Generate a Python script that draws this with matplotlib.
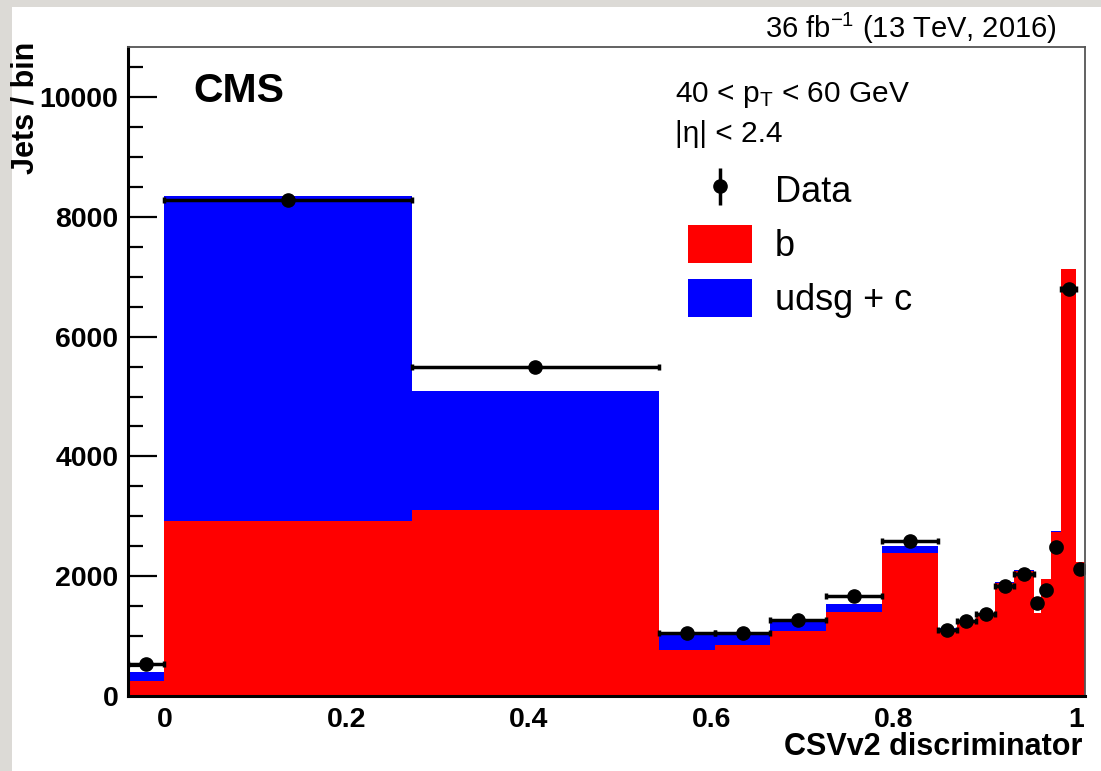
import numpy as np
import matplotlib
matplotlib.use("Agg")
import matplotlib.pyplot as plt
from matplotlib.patches import Rectangle, Patch
from matplotlib.ticker import MultipleLocator

# ---- data ----
bin_edges = [-0.04, 0.0, 0.2713, 0.5426, 0.6038, 0.6649, 0.7261, 0.7872, 0.8484,
             0.8694, 0.8904, 0.9115, 0.9325, 0.9535, 0.962, 0.973, 0.984, 1.0, 1.01]
b_jets = [255, 2922, 3105, 768, 851, 1085, 1408, 2382,
          1110, 1240, 1370, 1890, 2080, 1380, 1948, 2743, 7123, 2242]
light_jets = [151, 5425, 1987, 250, 167, 155, 128, 128,
              20, 20, 20, 15, 30, 10, 5, 5, 5, 0]
data_counts = [529, 8280, 5493, 1047, 1047, 1269, 1669, 2588,
               1102, 1257, 1369, 1836, 2032, 1548, 1770, 2493, 6795, 2120]

x_ticks = [0, 0.2, 0.4, 0.6, 0.8, 1.0]
x_tick_labels = ["0", "0.2", "0.4", "0.6", "0.8", "1"]
y_ticks = [0, 2000, 4000, 6000, 8000, 10000]

plt.rcParams['font.family'] = ['Liberation Sans', 'DejaVu Sans']
plt.rcParams['mathtext.fontset'] = 'custom'
plt.rcParams['mathtext.rm'] = 'Liberation Sans'
plt.rcParams['mathtext.it'] = 'Liberation Sans:italic'
plt.rcParams['mathtext.bf'] = 'Liberation Sans:bold'

W, H = 1101, 771
fig = plt.figure(figsize=(W / 100, H / 100), dpi=100)
fig.patch.set_facecolor('#dcdad6')
fig.patches.append(Rectangle((12 / W, 0), 1 - 12 / W, 1 - 7 / H,
                             transform=fig.transFigure, facecolor='white',
                             edgecolor='none', zorder=-10))

ax = fig.add_axes([128 / W, 1 - 696 / H, (1085 - 128) / W, (696 - 47) / H])
ax.set_facecolor('white')

edges = np.array(bin_edges)
widths = np.diff(edges)
centers = edges[:-1] + widths / 2
b = np.array(b_jets, dtype=float)
l = np.array(light_jets, dtype=float)
d = np.array(data_counts, dtype=float)

ax.bar(edges[:-1], b, width=widths, align='edge', color='#ff0000',
       edgecolor='none', linewidth=0, zorder=2)
ax.bar(edges[:-1], l, width=widths, bottom=b, align='edge', color='#0000ff',
       edgecolor='none', linewidth=0, zorder=2)

ax.errorbar(centers, d, xerr=widths / 2, fmt='o', color='black', ms=9.5,
            elinewidth=2.5, capsize=2, capthick=2.5, zorder=4)

ax.set_xlim(-0.04, 1.01)
ax.set_ylim(0, 10835)

ax.set_xticks(x_ticks)
ax.set_xticklabels(x_tick_labels)
ax.set_yticks(y_ticks)
ax.set_yticklabels([str(v) for v in y_ticks])
ax.xaxis.set_minor_locator(MultipleLocator(0.05))
ax.yaxis.set_minor_locator(MultipleLocator(500))
ax.tick_params(axis='y', which='major', direction='in', length=21, width=1.6,
               pad=7, labelsize=20.5)
ax.tick_params(axis='y', which='minor', direction='in', length=11, width=1.6)
ax.tick_params(axis='x', which='major', direction='in', length=14, width=1.6,
               pad=8, labelsize=20.5)
ax.tick_params(axis='x', which='minor', direction='in', length=7, width=1.6)
for lab in ax.get_xticklabels() + ax.get_yticklabels():
    lab.set_fontweight('bold')

for s in ['left', 'bottom']:
    ax.spines[s].set_linewidth(2.2)
    ax.spines[s].set_color('black')
    ax.spines[s].set_zorder(5)
for s in ['top', 'right']:
    ax.spines[s].set_linewidth(1.3)
    ax.spines[s].set_color('#555555')
    ax.spines[s].set_zorder(5)

# axis labels
fig.text(25 / W, 1 - 42 / H, "Jets / bin", rotation=90, ha='center', va='top',
         fontsize=22, fontweight='bold')
fig.text(1082 / W, 1 - 755 / H, "CSVv2 discriminator", ha='right',
         va='baseline', fontsize=22, fontweight='bold')

# annotations
fig.text(1057 / W, 1 - 38 / H, r"36 fb$^{-1}$ (13 TeV, 2016)", ha='right',
         va='baseline', fontsize=21)
fig.text(193 / W, 1 - 102 / H, "CMS", ha='left', va='baseline', fontsize=29.5,
         fontweight='bold')
fig.text(675 / W, 1 - 102 / H, r"40 < p$_{\mathrm{T}}$ < 60 GeV", ha='left',
         va='baseline', fontsize=21.5)
fig.text(675 / W, 1 - 142 / H, "|η| < 2.4", ha='left', va='baseline',
         fontsize=21.5)

# legend
h_data = ax.errorbar([np.nan], [np.nan], yerr=[1], fmt='o', color='black',
                     ms=9.5, elinewidth=2.5, capsize=0)
h_b = Patch(facecolor='#ff0000', edgecolor='none')
h_l = Patch(facecolor='#0000ff', edgecolor='none')
leg = ax.legend([h_data, h_b, h_l], ["Data", "b", "udsg + c"],
                loc='upper left', bbox_to_anchor=((688 - 128) / (1085 - 128),
                                                  (696 - 171) / (696 - 47)),
                frameon=False, fontsize=26, handlelength=1.78,
                handleheight=1.22, handletextpad=0.62, labelspacing=0.42,
                borderaxespad=0, borderpad=0)

fig.savefig("out.png", dpi=100, facecolor=fig.get_facecolor())
